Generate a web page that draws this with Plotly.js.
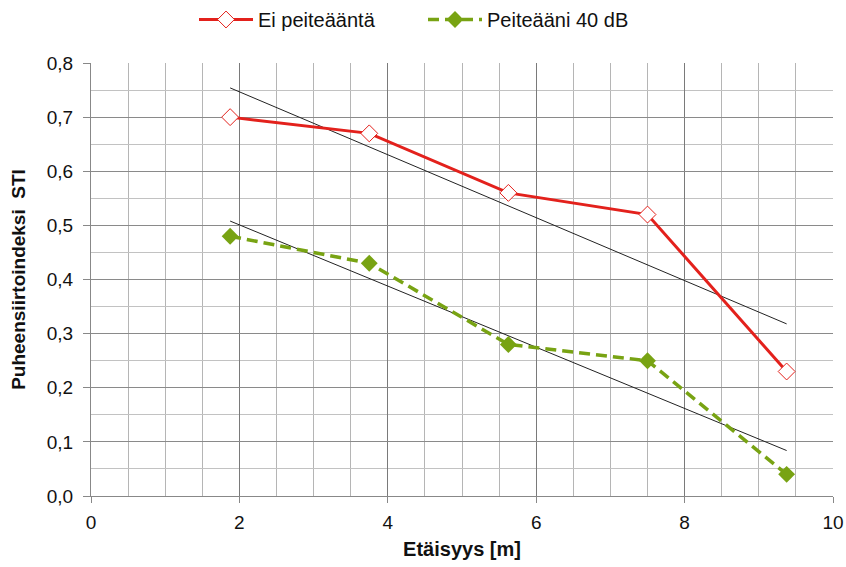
<!DOCTYPE html>
<html>
<head>
<meta charset="utf-8">
<script src="https://cdn.plot.ly/plotly-3.0.1.min.js"></script>
<style>html,body{margin:0;padding:0;background:#fff;}#chart{width:846px;height:567px;}</style>
</head>
<body>
<div id="chart"></div>
<script>
const distances = [1.875, 3.75, 5.625, 7.5, 9.375];
const noMasking = [0.70, 0.67, 0.56, 0.52, 0.23];
const masking40 = [0.48, 0.43, 0.28, 0.25, 0.04];
const seriesNames = ["Ei peiteääntä", "Peiteääni 40 dB"];
const yTickVals = [0, 0.1, 0.2, 0.3, 0.4, 0.5, 0.6, 0.7, 0.8];

function linearFit(xs, ys) {
  const n = xs.length;
  const mx = xs.reduce((a, b) => a + b, 0) / n;
  const my = ys.reduce((a, b) => a + b, 0) / n;
  let sxy = 0, sxx = 0;
  for (let i = 0; i < n; i++) { sxy += (xs[i] - mx) * (ys[i] - my); sxx += (xs[i] - mx) ** 2; }
  const b = sxy / sxx, a = my - b * mx;
  const x0 = xs[0], x1 = xs[n - 1];
  return { x: [x0, x1], y: [a + b * x0, a + b * x1] };
}

const fitRed = linearFit(distances, noMasking);
const fitGreen = linearFit(distances, masking40);

const traces = [
  { x: fitRed.x, y: fitRed.y, mode: 'lines', line: { color: '#222', width: 1 }, showlegend: false, hoverinfo: 'skip' },
  { x: fitGreen.x, y: fitGreen.y, mode: 'lines', line: { color: '#222', width: 1 }, showlegend: false, hoverinfo: 'skip' },
  { x: distances, y: noMasking, name: seriesNames[0], mode: 'lines+markers',
    line: { color: '#e3211c', width: 3 },
    marker: { symbol: 'diamond', size: 13, color: '#ffffff', line: { color: '#e3211c', width: 1 } } },
  { x: distances, y: masking40, name: seriesNames[1], mode: 'lines+markers',
    line: { color: '#78a313', width: 3.5, dash: '11px,6px' },
    marker: { symbol: 'diamond', size: 13, color: '#78a313', line: { color: '#78a313', width: 0 } } }
];

const layout = {
  width: 846, height: 567,
  margin: { l: 91, r: 13, t: 63, b: 71 },
  paper_bgcolor: '#fff', plot_bgcolor: '#fff',
  separators: ', ',
  font: { family: '"Liberation Sans", Arial, sans-serif', size: 19, color: '#111' },
  showlegend: true,
  legend: { orientation: 'h', xref: 'container', x: 0.5, xanchor: 'center', y: 1.0, yref: 'container', yanchor: 'top',
    font: { size: 20 }, itemwidth: 54, entrywidth: 160, entrywidthmode: 'pixels', tracegroupgap: 0 },
  xaxis: {
    range: [0, 10], dtick: 2, tick0: 0,
    showgrid: true, gridcolor: '#7a7a7a', gridwidth: 1,
    minor: { dtick: 0.5, showgrid: true, gridcolor: '#b5b5b5', gridwidth: 1 },
    showline: true, linecolor: '#888', linewidth: 1,
    ticks: 'outside', ticklen: 6, tickcolor: '#888', ticklabelstandoff: 3,
    zeroline: false,
    title: { text: '<b>Etäisyys [m]</b>', font: { size: 20 }, standoff: 10 }
  },
  yaxis: {
    range: [0, 0.8], tickvals: yTickVals, tickformat: '.1f',
    showgrid: true, gridcolor: '#8a8a8a', gridwidth: 1,
    minor: { dtick: 0.05, showgrid: true, gridcolor: '#c2c2c2', gridwidth: 1 },
    showline: true, linecolor: '#888', linewidth: 1,
    ticks: 'outside', ticklen: 7, tickcolor: '#888', ticklabelstandoff: 6,
    zeroline: false,
    title: { text: '<b>Puheensiirtoindeksi  STI</b>', font: { size: 19 }, standoff: 16 }
  }
};

Plotly.newPlot('chart', traces, layout, { displayModeBar: false, staticPlot: true });
</script>
</body>
</html>
